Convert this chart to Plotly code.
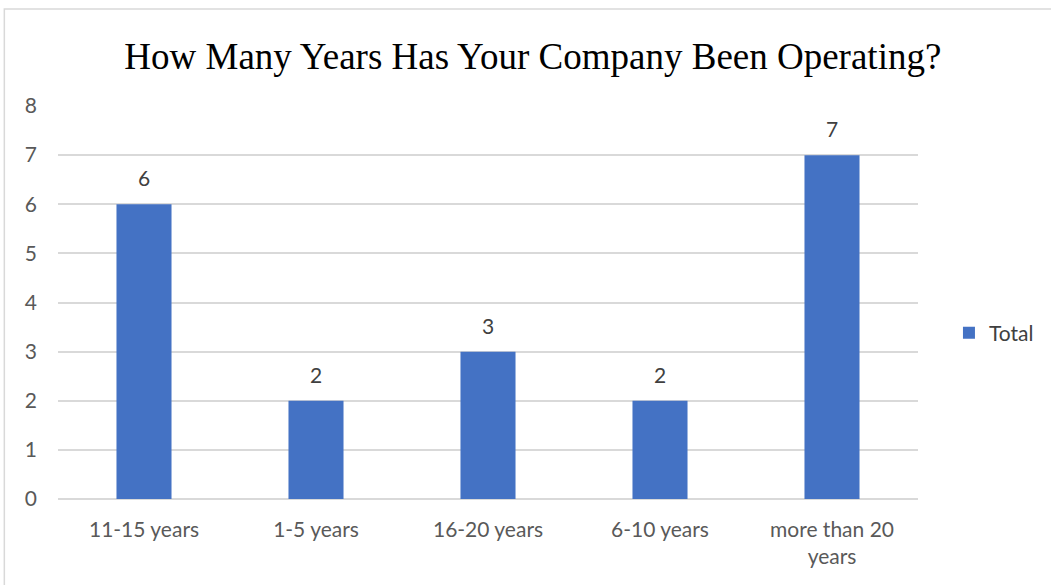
import plotly.graph_objects as go

categories = ["11-15 years", "1-5 years", "16-20 years", "6-10 years", "more than 20<br>years"]
totals = [6, 2, 3, 2, 7]

label_font = "Lato, 'Open Sans', sans-serif"

fig = go.Figure()
fig.add_trace(go.Bar(
    x=categories,
    y=totals,
    name="Total",
    marker=dict(color="#4472C4", line=dict(width=0)),
    width=0.32,
    cliponaxis=False,
))

# value labels above each bar
for cat, val in zip(categories, totals):
    fig.add_annotation(
        x=cat, y=val, text=str(val), showarrow=False,
        yanchor="bottom", yshift=12,
        font=dict(family=label_font, size=21, color="#404040"),
    )

fig.update_layout(
    width=1051,
    height=585,
    margin=dict(l=58, r=129, t=106, b=86),
    paper_bgcolor="white",
    plot_bgcolor="white",
    title=dict(
        text="How Many Years Has Your Company Been Operating?",
        font=dict(family="'Liberation Serif', 'Times New Roman', serif", size=37, color="#000000"),
        x=0.507, xref="container", xanchor="center",
        y=0.905, yanchor="middle",
    ),
    showlegend=True,
    legend=dict(
        x=1.036, y=0.422, xanchor="left", yanchor="middle",
        font=dict(family=label_font, size=21, color="#404040"),
        itemwidth=30,
    ),
    xaxis=dict(
        showgrid=False,
        showline=False,
        ticks="",
        ticklabelstandoff=16,
        tickfont=dict(family=label_font, size=21, color="#595959"),
    ),
    yaxis=dict(
        range=[0, 8],
        dtick=1,
        showgrid=True,
        gridcolor="#D9D9D9",
        gridwidth=1.5,
        zeroline=True,
        zerolinecolor="#D9D9D9",
        zerolinewidth=1.5,
        ticks="",
        ticklabelstandoff=20,
        tickfont=dict(family=label_font, size=21, color="#595959"),
    ),
    shapes=[dict(
        type="rect", xref="paper", yref="paper",
        x0=-0.0624, x1=1.2, y0=-0.3, y1=1.2468,
        line=dict(color="#D9D9D9", width=1.5),
        fillcolor="rgba(0,0,0,0)", layer="below",
    )],
)

fig.write_html("out.html")
